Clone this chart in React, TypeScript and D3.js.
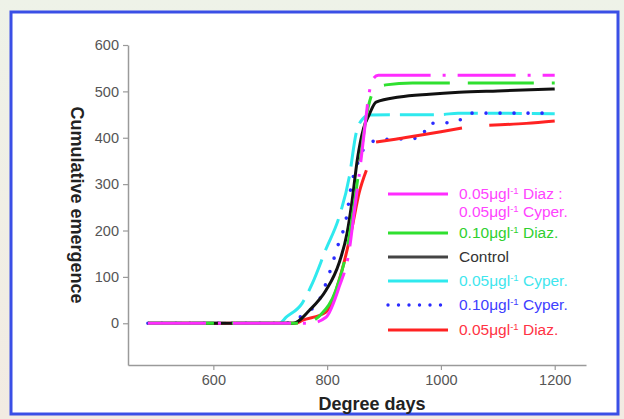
import * as d3 from "d3";
import { useEffect, useRef } from "react";

const WIDTH = 624;
const HEIGHT = 419;

// [degree days, cumulative emergence]; NaN marks a break in the line
const controlData = [
  [485, 0], [740, 0], [769, 28], [798, 71], [821, 130], [835, 194], [844, 265],
  [853, 352], [864, 420], [874, 450], [886, 477], [927, 488], [980, 494],
  [1032, 498], [1100, 501], [1200, 505],
];
const diaz10Data = [
  [485, 0], [760, 0], [790, 20], [815, 70], [835, 160], [848, 260], [858, 350],
  [868, 440], [877, 488], [886, 507], [903, 514], [950, 518], [1200, 518],
];
const mixData = [
  [485, 0], [770, 0], [798, 13], [821, 78], [839, 158], [848, 244], [856, 316],
  [866, 420], [873, 490], [879, 523], [890, 535], [1200, 535],
];
const cyper05Data = [
  [485, 0], [716, 0], [728, 13], [756, 43], [774, 86], [798, 160], [821, 229],
  [839, 316], [851, 410], [862, 440], [874, 449], [1000, 450], [1030, 453], [1200, 452],
];
const cyper10Data = [
  [485, 0], [725, 0], [760, 20], [786, 50], [804, 108], [818, 164], [834, 229],
  [842, 294], [856, 352], [869, 384], [891, 395], [967, 400], [976, 430],
  [1027, 434], [1050, 453], [1200, 453],
];
const diaz05Data = [
  [485, 0], [745, 0], [756, 6], [798, 24], [826, 114], [844, 207], [856, 280],
  [869, 330], [877, NaN], [886, 391], [920, 397], [960, 405], [1000, 413],
  [1037, 421], [1060, NaN], [1085, 427], [1150, 431], [1200, 436],
];

const xTicks = [600, 800, 1000, 1200];
const yTicks = [0, 100, 200, 300, 400, 500, 600];

// drawing order (back to front)
const series = [
  { key: "cyper05", color: "#2fe9ee", dash: "34,10", width: 3, data: cyper05Data },
  { key: "cyper10", color: "#2b2bff", dash: "0,14", width: 3.6, data: cyper10Data },
  { key: "diaz05", color: "#ff2222", dash: null, width: 3, data: diaz05Data },
  { key: "control", color: "#111111", dash: null, width: 3, data: controlData },
  { key: "diaz10", color: "#2fe02f", dash: "66,18", width: 3, data: diaz10Data },
  { key: "mix", color: "#ff2cff", dash: "58,12,3,12", width: 3, data: mixData },
];

// legend rows: text pieces [before sup, sup, after sup]
const legendRows = [
  { color: "#ff2cff", textColor: "#ff44ff", dotted: false, lines: [["0.05μgl", "-1", " Diaz :"], ["0.05μgl", "-1", " Cyper."]] },
  { color: "#2fe02f", textColor: "#2fd02f", dotted: false, lines: [["0.10μgl", "-1", " Diaz."]] },
  { color: "#444444", textColor: "#333333", dotted: false, lines: [["Control", "", ""]] },
  { color: "#2fe9ee", textColor: "#3fe6ee", dotted: false, lines: [["0.05μgl", "-1", " Cyper."]] },
  { color: "#2b2bff", textColor: "#4040ff", dotted: true, lines: [["0.10μgl", "-1", " Cyper."]] },
  { color: "#ff2222", textColor: "#ff3344", dotted: false, lines: [["0.05μgl", "-1", " Diaz."]] },
];

export default function App() {
  const svgRef = useRef(null);

  useEffect(() => {
    const svg = d3.select(svgRef.current);
    svg.selectAll("*").remove();

    const x = d3.scaleLinear().domain([450, 1255]).range([128, 586]);
    const y = d3.scaleLinear().domain([-90, 600]).range([365, 45]);

    // page background + framed slide
    const defs = svg.append("defs");
    const bg = defs.append("linearGradient").attr("id", "bgGrad")
      .attr("x1", "0%").attr("y1", "0%").attr("x2", "0%").attr("y2", "100%");
    bg.append("stop").attr("offset", "0%").attr("stop-color", "#eef2e8");
    bg.append("stop").attr("offset", "100%").attr("stop-color", "#f2ebe2");

    svg.append("rect").attr("width", WIDTH).attr("height", HEIGHT).attr("fill", "url(#bgGrad)");
    svg.append("rect")
      .attr("x", 11).attr("y", 12).attr("width", 607).attr("height", 402)
      .attr("fill", "#ffffff").attr("stroke", "#3a4fe6").attr("stroke-width", 3);

    const g = svg.append("g").style("font-family", "'Liberation Sans', Arial, sans-serif");

    // axes
    const yAxis = g.append("g").attr("transform", `translate(${x.range()[0]},0)`)
      .call(d3.axisLeft(y).tickValues(yTicks).tickSize(5).tickSizeOuter(0).tickPadding(4));
    const xAxis = g.append("g").attr("transform", `translate(0,${y.range()[0]})`)
      .call(d3.axisBottom(x).tickValues(xTicks).tickSize(5).tickSizeOuter(0).tickPadding(5).tickFormat(d3.format("d")));

    [yAxis, xAxis].forEach((ax) => {
      ax.select(".domain").attr("stroke", "#9a9a9a").attr("stroke-width", 1.5);
      ax.selectAll(".tick line").attr("stroke", "#9a9a9a").attr("stroke-width", 1.2);
      ax.selectAll(".tick text").attr("fill", "#555").style("font-size", "14.5px")
        .style("font-family", "'Liberation Sans', Arial, sans-serif");
    });

    // axis titles
    g.append("text")
      .attr("transform", `translate(77,${205}) rotate(90)`)
      .attr("text-anchor", "middle").attr("dominant-baseline", "central")
      .style("font-size", "18px").style("font-weight", "bold").attr("fill", "#222")
      .text("Cumulative emergence");
    g.append("text")
      .attr("x", 372).attr("y", 410)
      .attr("text-anchor", "middle")
      .style("font-size", "18px").style("font-weight", "bold").attr("fill", "#222")
      .text("Degree days");

    // curves
    const line = d3.line()
      .defined((d) => !isNaN(d[1]))
      .x((d) => x(d[0]))
      .y((d) => y(d[1]))
      .curve(d3.curveMonotoneX);

    series.forEach((s) => {
      const p = g.append("path")
        .datum(s.data)
        .attr("fill", "none")
        .attr("stroke", s.color)
        .attr("stroke-width", s.width)
        .attr("stroke-linejoin", "round")
        .attr("d", line);
      if (s.dash) p.attr("stroke-dasharray", s.dash);
      if (s.key === "cyper10") p.attr("stroke-linecap", "round");
    });

    // legend
    const lg = g.append("g");
    const rowY = [194, 233, 257, 281, 305, 330];
    legendRows.forEach((row, i) => {
      const yy = rowY[i];
      const ln = lg.append("line")
        .attr("x1", 388).attr("x2", 448).attr("y1", yy).attr("y2", yy)
        .attr("stroke", row.color).attr("stroke-width", 3);
      if (row.dotted) ln.attr("stroke-dasharray", "0,10.5").attr("stroke-linecap", "round").attr("stroke-width", 3.4);
      row.lines.forEach((parts, j) => {
        const t = lg.append("text")
          .attr("x", 459).attr("y", yy + j * 18 + 5)
          .attr("fill", row.textColor)
          .style("font-size", "15.5px");
        t.append("tspan").text(parts[0]);
        if (parts[1]) {
          t.append("tspan").attr("dy", -5).style("font-size", "9.5px").text(parts[1]);
          t.append("tspan").attr("dy", 5).text(parts[2]);
        }
      });
    });
  }, []);

  return (
    <svg
      ref={svgRef}
      width={WIDTH}
      height={HEIGHT}
      style={{ position: "absolute", left: 0, top: 0, display: "block" }}
    />
  );
}
